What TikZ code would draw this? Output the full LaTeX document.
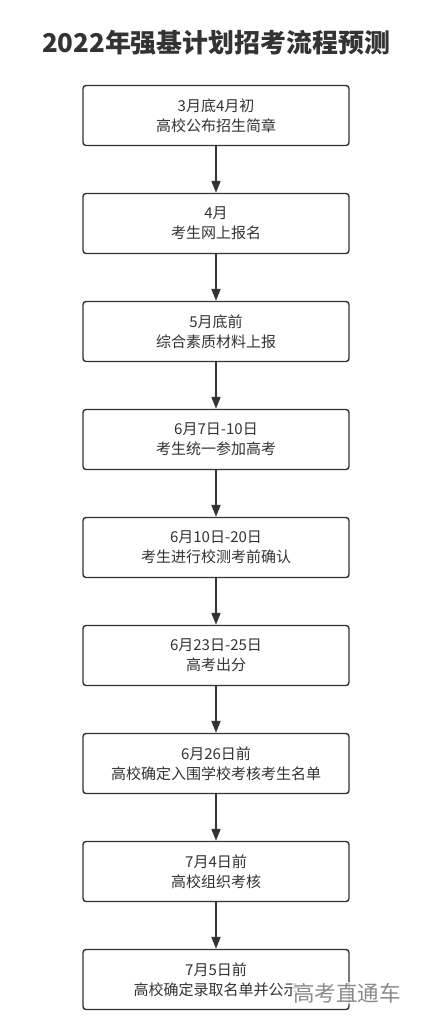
\documentclass[tikz,border=0pt]{standalone}
\usepackage{fontspec}
\setmainfont{Noto Sans CJK SC}
\usepackage{tikz}
\usetikzlibrary{positioning,arrows.meta}
\definecolor{flowDark}{HTML}{333333}
\definecolor{flowMark}{HTML}{8A8A8A}

\tikzset{
  stepbox/.style={draw=flowDark, line width=1.4pt, rounded corners=3pt, fill=white,
    minimum width=266pt, minimum height=60pt, align=center, text=flowDark,
    font=\fontsize{15}{20}\selectfont},
  flowarrow/.style={draw=flowDark, line width=1.8pt, -{Triangle[length=12pt,width=9pt]}}
}

\begin{document}
\begin{tikzpicture}[x=1pt, y=-1pt, node distance=46.6pt]
            \useasboundingbox[fill=white] (0,0) rectangle (432,1034);
            \node[font=\bfseries\fontsize{25.9}{30}\selectfont, text=flowDark] (title) at (216,43) {2022年强基计划招考流程预测};
            \node[stepbox] (s1) at (216,115.5) {3月底4月初\\高校公布招生简章};
            \node[stepbox, below=of s1] (s2) {4月\\考生网上报名};
            \node[stepbox, below=of s2] (s3) {5月底前\\综合素质材料上报};
            \node[stepbox, below=of s3] (s4) {6月7日-10日\\考生统一参加高考};
            \node[stepbox, below=of s4] (s5) {6月10日-20日\\考生进行校测考前确认};
            \node[stepbox, below=of s5] (s6) {6月23日-25日\\高考出分};
            \node[stepbox, below=of s6] (s7) {6月26日前\\高校确定入围学校考核考生名单};
            \node[stepbox, below=of s7] (s8) {7月4日前\\高校组织考核};
            \node[stepbox, below=of s8] (s9) {7月5日前\\高校确定录取名单并公示};
            \draw[flowarrow] (s1) -- (s2);
            \draw[flowarrow] (s2) -- (s3);
            \draw[flowarrow] (s3) -- (s4);
            \draw[flowarrow] (s4) -- (s5);
            \draw[flowarrow] (s5) -- (s6);
            \draw[flowarrow] (s6) -- (s7);
            \draw[flowarrow] (s7) -- (s8);
            \draw[flowarrow] (s8) -- (s9);
            % watermark
            \node[anchor=west, inner sep=1pt, fill=white, fill opacity=0.7, text opacity=1,
              text=flowMark, font=\fontsize{21.5}{24}\selectfont] (mark) at (292,993) {高考直通车};
        \end{tikzpicture}
\end{document}
